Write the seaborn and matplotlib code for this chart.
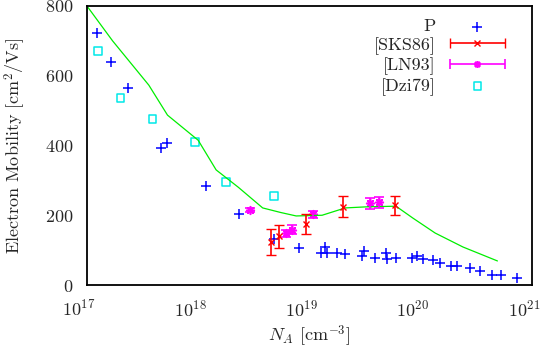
import numpy as np
import pandas as pd
import matplotlib
matplotlib.use('Agg')
import matplotlib.pyplot as plt
import matplotlib.transforms as mtransforms
from matplotlib.container import ErrorbarContainer
from matplotlib.legend_handler import HandlerErrorbar
import seaborn as sns

# model curve
model_x = [1.0e17, 1.7e17, 3.6e17, 5.3e17, 1.0e18, 1.45e18, 2.3e18, 3.8e18, 5.5e18,
           7.6e18, 1.3e19, 2.1e19, 3.2e19, 6.0e19, 8.5e19, 1.35e20, 2.4e20, 4.9e20]
model_y = [800, 700, 573, 487, 415, 330, 280, 221, 208, 198, 200, 221, 224, 226, 192,
           149, 109, 69]

# P
p_x = [1.23e17, 1.65e17, 2.34e17, 4.6e17, 5.2e17, 1.18e18, 2.34e18, 4.8e18, 8.0e18,
       1.26e19, 1.39e19, 1.45e19, 1.78e19, 2.1e19, 2.96e19, 3.1e19, 3.9e19, 4.9e19,
       5.0e19, 6.0e19, 8.3e19, 9.3e19, 1.05e20, 1.29e20, 1.48e20, 1.86e20, 2.1e20,
       2.75e20, 3.4e20, 4.4e20, 5.3e20, 7.3e20]
p_y = [722, 640, 565, 393, 407, 284, 204, 132, 106, 92, 109, 92, 92, 89, 83, 97, 77,
       92, 75, 77, 77, 83, 75, 72, 63, 54, 54, 49, 40, 29, 29, 20]

# [SKS86]
sks_x = [4.5e18, 5.3e18, 9.3e18, 2.0e19, 5.9e19]
sks_y = [123, 140, 175, 224, 229]
sks_err = [37, 33, 30, 30, 27]

# [LN93]
ln_x = [2.9e18, 6.2e18, 7.0e18, 1.07e19, 3.5e19, 4.2e19]
ln_y = [215, 149, 158, 203, 234, 237]
ln_err = [7, 10, 13, 10, 15, 16]

# [Dzi79]
dzi_x = [1.26e17, 2.0e17, 3.9e17, 9.4e17, 1.78e18, 4.8e18]
dzi_y = [671, 536, 476, 410, 295, 255]

sns.set_style('white')
plt.rcParams['font.family'] = ['cmr10', 'DejaVu Serif']
plt.rcParams['mathtext.fontset'] = 'cm'
plt.rcParams['axes.formatter.use_mathtext'] = True
plt.rcParams['font.size'] = 12

fig = plt.figure(figsize=(5.4, 3.51), dpi=100)
ax = fig.add_axes([0.161, 0.188, 0.824, 0.795])

red = '#ff0000'
mag = '#ff00ff'
star = (8, 2, 0)

sns.lineplot(x=model_x, y=model_y, color='#00ee00', lw=0.9, ax=ax, legend=False)
sns.scatterplot(x=p_x, y=p_y, marker='+', color='#0000ff', s=45, linewidth=1.1,
                ax=ax, legend=False)
ax.errorbar(sks_x, sks_y, yerr=sks_err, fmt='x', color=red, ms=4, mew=1.0,
            elinewidth=1.2, capsize=3.5, capthick=1.2)
ax.errorbar(ln_x, ln_y, yerr=ln_err, fmt='none', ecolor=mag,
            elinewidth=1.2, capsize=3.5, capthick=1.2)
sns.scatterplot(x=ln_x, y=ln_y, marker=star, color=mag, s=30, linewidth=1.2,
                ax=ax, legend=False)
sns.scatterplot(x=dzi_x, y=dzi_y, marker='s', facecolor='none', edgecolor='#00e8e8',
                s=30, linewidth=1.1, ax=ax, legend=False)

# legend proxies in gnuplot style (horizontal error bars)
h_p = ax.scatter([], [], marker='+', color='#0000ff', s=45, linewidths=1.1)
h_sks = ax.errorbar([np.nan], [np.nan], xerr=[np.nan], fmt='x', color=red, ms=4,
                    mew=1.0, elinewidth=1.2, capsize=3.5, capthick=1.2)
h_ln = ax.errorbar([np.nan], [np.nan], xerr=[np.nan], fmt=' ', marker=star,
                   color=mag, ms=5, mew=1.2, elinewidth=1.2, capsize=3.5, capthick=1.2)
h_dzi = ax.scatter([], [], marker='s', facecolors='none', edgecolors='#00e8e8', s=30,
                   linewidths=1.1)

ax.set_xscale('log')
ax.set_xlim(1e17, 1e21)
ax.set_ylim(0, 800)
ax.set_xticks([1e17, 1e18, 1e19, 1e20, 1e21])
ax.set_yticks([0, 200, 400, 600, 800])
ax.minorticks_off()
ax.tick_params(direction='in', length=5, width=1, labelsize=13)
ax.tick_params(axis='x', pad=10)
ax.tick_params(axis='y', pad=10)
shift = mtransforms.ScaledTranslation(-8 / 100, 0, fig.dpi_scale_trans)
for lab in ax.get_xticklabels():
    lab.set_transform(lab.get_transform() + shift)
for s in ax.spines.values():
    s.set_color('black')
    s.set_linewidth(1.3)

ax.set_xlabel(r'$N_A$ [cm$^{-3}$]', fontsize=13, labelpad=3)
ax.set_ylabel(r'Electron Mobility [cm$^2$/Vs]', fontsize=13, labelpad=12)
ax.legend([h_p, h_sks, h_ln, h_dzi], ['P', '[SKS86]', '[LN93]', '[Dzi79]'],
          loc='upper right', bbox_to_anchor=(0.975, 1.0), frameon=False,
          markerfirst=False, fontsize=13, handlelength=3.4, borderaxespad=0.3,
          labelspacing=0.15, handletextpad=0.6,
          handler_map={ErrorbarContainer: HandlerErrorbar(xerr_size=1.5)})

fig.savefig('out.png', dpi=100)
